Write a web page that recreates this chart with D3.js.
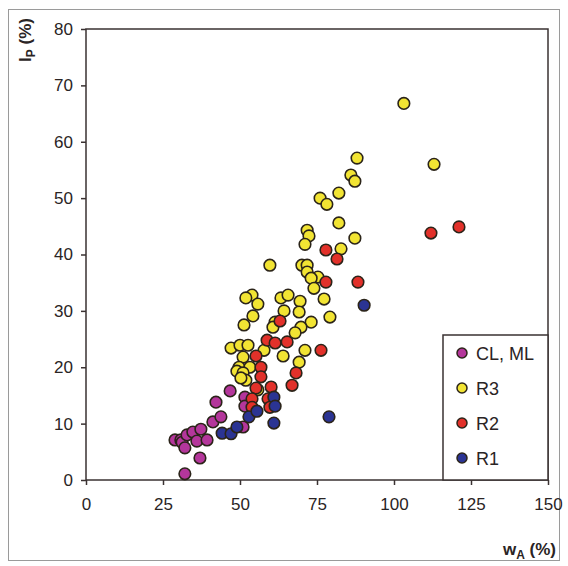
<!DOCTYPE html>
<html>
<head>
<meta charset="utf-8">
<script src="https://cdn.jsdelivr.net/npm/d3@7"></script>
<style>
  body { margin: 0; background: #fff; }
  svg { display: block; }
</style>
</head>
<body>
<svg id="chart" width="568" height="566"></svg>
<script>
// Data: [wA, Ip]
var groups = ["CL, ML", "R3", "R2", "R1"];
var colors = ["#b4369b", "#f2e433", "#e2312a", "#2b3493"];

var clml = [[32.1,1.1],[37.0,3.9],[28.9,7.1],[30.8,7.1],[31.2,6.7],[32.1,5.7],[32.8,8.0],
  [34.7,8.5],[36.0,6.9],[37.3,9.0],[39.3,7.1],[41.2,10.3],[43.8,11.2],[42.2,13.8],
  [46.8,15.8],[51.6,14.7],[51.6,13.1],[51.0,9.4]];

var r3 = [[103.2,66.8],[113.0,56.0],[88.0,57.1],[86.0,54.1],[87.3,53.0],[82.1,50.9],[76.0,50.0],
  [78.2,48.9],[82.1,45.6],[87.3,42.9],[71.8,44.3],[72.4,43.3],[71.1,41.8],[82.8,41.0],
  [59.7,38.1],[70.1,38.1],[71.8,38.1],[71.8,36.9],[75.3,36.0],[73.1,35.8],[74.0,34.0],
  [77.3,32.1],[69.5,31.7],[79.2,28.9],[73.1,28.0],[69.2,29.8],[69.8,27.1],[67.9,26.1],
  [71.1,23.0],[69.2,20.9],[53.9,32.8],[51.9,32.3],[55.8,31.2],[54.2,29.1],[51.3,27.5],
  [63.3,32.3],[65.6,32.8],[64.3,30.0],[61.4,28.0],[60.7,27.1],[47.1,23.4],[50.0,23.9],
  [52.6,23.9],[57.8,23.0],[64.0,22.0],[51.0,21.8],[49.7,20.0],[53.2,20.0],[49.0,19.3],
  [51.0,19.0],[51.9,17.7],[50.3,18.1],[55.8,16.0]];

var r2 = [[112.0,43.8],[121.1,44.9],[77.9,40.8],[81.5,39.2],[77.9,35.1],[88.3,35.1],[76.3,23.0],
  [68.2,19.0],[66.9,16.8],[63.0,28.2],[58.8,24.8],[61.4,24.3],[65.3,24.5],[55.2,22.0],
  [56.8,20.0],[56.8,18.3],[55.2,16.3],[60.1,16.5],[59.1,14.4],[59.7,12.9],[53.9,14.4],
  [53.9,12.9]];

var r1 = [[44.2,8.3],[47.1,8.2],[49.0,9.4],[52.9,11.2],[55.5,12.2],[61.0,14.7],[61.4,13.1],
  [61.0,10.1],[90.3,31.0],[78.9,11.2]];

var series = [clml, r3, r2, r1];
var xTicks = [0, 25, 50, 75, 100, 125, 150];
var yTicks = [0, 10, 20, 30, 40, 50, 60, 70, 80];

var svg = d3.select("#chart")
  .attr("font-family", "'Liberation Sans', Arial, sans-serif");

var plotL = 86, plotR = 548, plotT = 29, plotB = 480;
var ink = "#3a3232";

var x = d3.scaleLinear().domain([0, 150]).range([plotL, plotR]);
var y = d3.scaleLinear().domain([0, 80]).range([plotB, plotT]);

// outer frame of the figure
svg.append("rect")
  .attr("x", 8.5).attr("y", 9.5)
  .attr("width", 551).attr("height", 551)
  .attr("fill", "none").attr("stroke", "#9a9a9a").attr("stroke-width", 1);

// plot box
svg.append("rect")
  .attr("x", plotL).attr("y", plotT)
  .attr("width", plotR - plotL).attr("height", plotB - plotT)
  .attr("fill", "none").attr("stroke", ink).attr("stroke-width", 1.5);

var xAxis = svg.append("g")
  .attr("transform", "translate(0," + plotB + ")")
  .call(d3.axisBottom(x).tickValues(xTicks).tickSize(5).tickPadding(13));
var yAxis = svg.append("g")
  .attr("transform", "translate(" + plotL + ",0)")
  .call(d3.axisLeft(y).tickValues(yTicks).tickSize(5).tickPadding(8));

[xAxis, yAxis].forEach(function(a) {
  a.select(".domain").remove();
  a.selectAll("line").attr("stroke", ink).attr("stroke-width", 1.5);
  a.selectAll("text").attr("fill", "#2a2424").attr("font-size", 17)
    .attr("font-family", "'Liberation Sans', Arial, sans-serif");
});

// points
series.forEach(function(data, i) {
  svg.append("g").selectAll("circle")
    .data(data)
    .enter().append("circle")
      .attr("cx", function(d) { return x(d[0]); })
      .attr("cy", function(d) { return y(d[1]); })
      .attr("r", 5.8)
      .attr("fill", colors[i])
      .attr("stroke", "#2b2419")
      .attr("stroke-width", 1.6);
});

// legend
var lg = svg.append("g");
lg.append("rect")
  .attr("x", 443).attr("y", 335)
  .attr("width", plotR - 443).attr("height", plotB - 335)
  .attr("fill", "#fff").attr("stroke", ink).attr("stroke-width", 1.5);
var item = lg.selectAll(".item")
  .data(groups)
  .enter().append("g")
    .attr("class", "item")
    .attr("transform", function(d, i) { return "translate(462," + (353 + i * 35) + ")"; });
item.append("circle")
  .attr("r", 5)
  .attr("fill", function(d, i) { return colors[i]; })
  .attr("stroke", "#2b2419").attr("stroke-width", 1.5);
item.append("text")
  .attr("x", 14).attr("y", 6.5)
  .attr("font-size", 18)
  .attr("fill", "#2a2424")
  .text(function(d) { return d; });

// axis titles
var yt = svg.append("text")
  .attr("transform", "translate(31,40) rotate(-90)")
  .attr("text-anchor", "middle")
  .attr("font-size", 17).attr("font-weight", "bold").attr("fill", "#2a2424");
yt.append("tspan").text("I");
yt.append("tspan").attr("font-size", 12).attr("dy", 4).text("P");
yt.append("tspan").attr("dy", -4).text(" (%)");

var xt = svg.append("text")
  .attr("x", 556).attr("y", 555)
  .attr("text-anchor", "end")
  .attr("font-size", 17).attr("font-weight", "bold").attr("fill", "#2a2424");
xt.append("tspan").text("w");
xt.append("tspan").attr("font-size", 12).attr("dy", 4).text("A");
xt.append("tspan").attr("dy", -4).text(" (%)");
</script>
</body>
</html>
